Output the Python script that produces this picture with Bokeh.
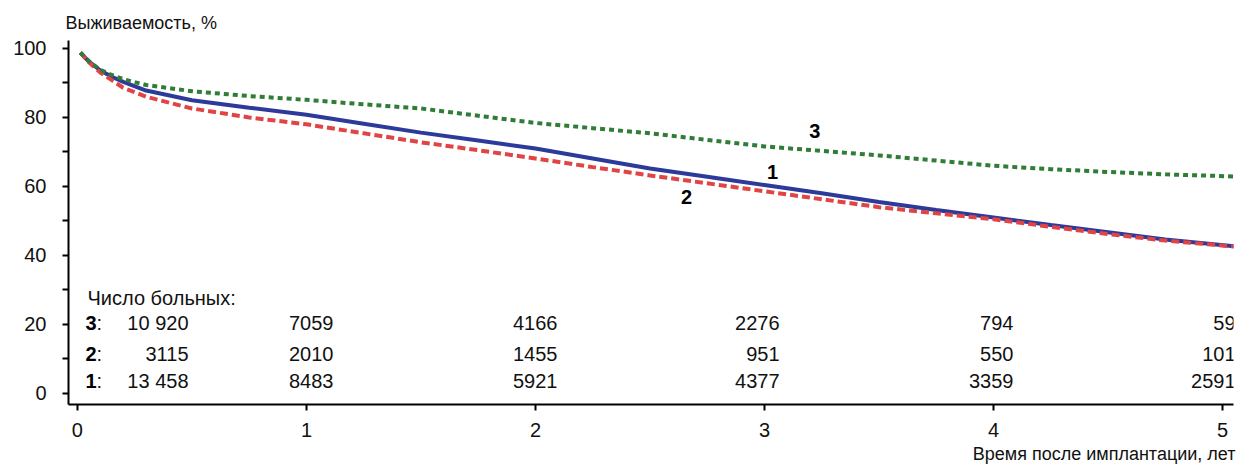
from bokeh.plotting import figure
from bokeh.models import Range1d, FixedTicker, ColumnDataSource, Title
from bokeh.core.properties import value
from bokeh.embed import file_html
from bokeh.resources import INLINE

# ---- data ----
years = [0.013, 0.05, 0.1, 0.15, 0.2, 0.3, 0.5, 0.75, 1.0, 1.25, 1.5, 1.75, 2.0,
         2.25, 2.5, 2.75, 3.0, 3.25, 3.5, 3.75, 4.0, 4.25, 4.5, 4.75, 5.05]
surv_1 = [98.8, 96.2, 93.6, 91.8, 90.3, 87.8, 85.0, 82.8, 80.8, 78.2, 75.6, 73.3, 71.0,
          68.1, 65.2, 62.8, 60.4, 58.0, 55.5, 53.2, 51.0, 48.8, 46.7, 44.6, 42.7]
surv_2 = [98.8, 96.0, 93.0, 90.8, 88.6, 86.0, 82.6, 80.0, 78.0, 75.4, 72.8, 70.5, 68.1,
          65.6, 63.2, 60.9, 58.6, 56.3, 54.0, 52.2, 50.5, 48.3, 46.2, 44.3, 42.6]
surv_3 = [98.8, 96.3, 93.8, 92.3, 91.1, 89.4, 87.6, 86.2, 85.1, 83.8, 82.6, 80.5, 78.4,
          76.9, 75.4, 73.5, 71.6, 70.3, 69.0, 67.5, 66.0, 65.0, 64.2, 63.5, 62.9]

x_ticks = [0, 1, 2, 3, 4, 5]
y_ticks = [0, 20, 40, 60, 80, 100]
at_risk_3 = ["10 920", "7059", "4166", "2276", "794", "59"]
at_risk_2 = ["3115", "2010", "1455", "951", "550", "101"]
at_risk_1 = ["13 458", "8483", "5921", "4377", "3359", "2591"]
group_names = ["3", "2", "1"]

y_title = "Выживаемость, %"
x_title = "Время после имплантации, лет"
table_title = "Число больных:"

FONT = "Liberation Sans"
FS = "20px"
C1, C2, C3 = "#2c3a9a", "#e04444", "#2f7d36"

p = figure(width=1240, height=466, output_backend="svg", toolbar_location=None,
           x_range=Range1d(-0.039, 5.048), y_range=Range1d(-3.2, 102.3),
           min_border_left=68, min_border_right=7, min_border_top=40, min_border_bottom=62)
p.outline_line_color = None
p.grid.visible = False
p.background_fill_color = "white"
p.border_fill_color = "white"

# axis titles
p.add_layout(Title(text=y_title, align="left", offset=-3, standoff=15,
                   text_font=FONT, text_font_size="18px", text_font_style="normal",
                   text_color="#111111"), "above")
p.add_layout(Title(text=x_title, align="right", offset=-2, standoff=4,
                   text_font=FONT, text_font_size="18px", text_font_style="normal",
                   text_color="#111111"), "below")

# axes
p.xaxis.ticker = FixedTicker(ticks=x_ticks)
p.yaxis.ticker = FixedTicker(ticks=y_ticks, minor_ticks=[10, 30, 50, 70, 90])
for ax in (p.xaxis, p.yaxis):
    ax.axis_line_width = 2
    ax.axis_line_color = "black"
    ax.major_tick_line_width = 2
    ax.major_tick_line_color = "black"
    ax.major_tick_in = 0
    ax.major_tick_out = 6
    ax.major_label_text_font = FONT
    ax.major_label_text_font_size = FS
    ax.major_label_text_color = "#111111"
p.yaxis.minor_tick_line_width = 2
p.yaxis.minor_tick_line_color = "black"
p.yaxis.minor_tick_in = 0
p.yaxis.minor_tick_out = 6
p.xaxis.minor_tick_line_color = None
p.yaxis.major_label_standoff = 16
p.xaxis.major_label_standoff = 12

# curves
p.line(years, surv_1, line_color=C1, line_width=4)
p.line(years, surv_2, line_color=C2, line_width=4, line_dash="8 4")
p.line(years, surv_3, line_color=C3, line_width=4, line_dash="5 4")

# curve labels
p.text(x=[3.22, 3.035, 2.66], y=[76.2, 64.1, 56.8], text=["3", "1", "2"],
       text_font=value(FONT), text_font_size=value(FS), text_font_style="bold",
       text_align="center", text_baseline="middle", text_color="black")

# at-risk table
row_y = [20.3, 11.3, 3.5]
col_x = [0.485, 1.118, 2.096, 3.066, 4.087, 5.057]
p.text(x=[0.044], y=[27.8], text=[table_title], text_font=value(FONT),
       text_font_size=value(FS), text_align="left", text_baseline="middle",
       text_color="#111111")
p.text(x=[0.035] * 3, y=row_y, text=group_names, text_font=value(FONT),
       text_font_size=value(FS), text_font_style="bold", text_align="left",
       text_baseline="middle", text_color="black")
p.text(x=[0.035] * 3, y=row_y, text=[":"] * 3, x_offset=11, text_font=value(FONT),
       text_font_size=value(FS), text_align="left", text_baseline="middle",
       text_color="#111111")
for vals, yy in zip([at_risk_3, at_risk_2, at_risk_1], row_y):
    src = ColumnDataSource(dict(x=col_x, y=[yy] * len(col_x), t=vals))
    p.text(x="x", y="y", text="t", source=src, text_font=value(FONT),
           text_font_size=value(FS), text_align="right", text_baseline="middle",
           text_color="#111111")

open("out.html", "w").write(file_html(p, INLINE))
